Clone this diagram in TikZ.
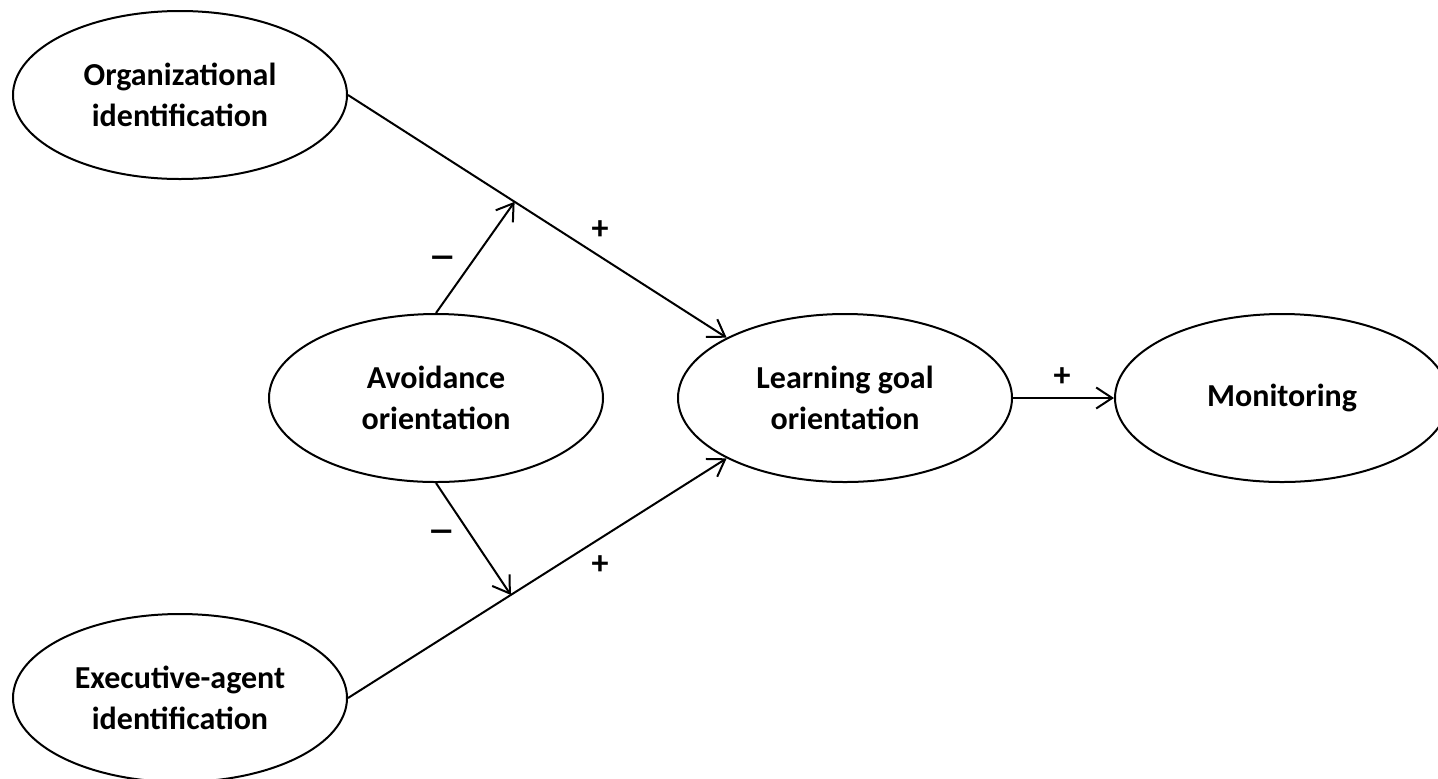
\documentclass[tikz,border=0pt]{standalone}
\usepackage{fontspec}
\usepackage{graphicx}
\setmainfont{Carlito}
\usetikzlibrary{shapes.geometric,arrows.meta,calc}
\begin{document}
\begin{tikzpicture}[x=0.5pt,y=-0.5pt,
  latent/.style={ellipse,draw,line width=1pt,minimum width=167pt,minimum height=84pt,inner sep=0pt,align=center,font=\bfseries\fontsize{16}{20.5}\selectfont},
  link/.style={line width=1pt,-{Straight Barb[length=8pt,width=10.5pt,line width=1pt]}},
  sign/.style={font=\bfseries\fontsize{17}{20}\selectfont,inner sep=0pt},
  minus/.style={font=\bfseries\fontsize{19}{24}\selectfont,inner sep=0pt}]
\clip (0,0) rectangle (1438,778);
\useasboundingbox (0,0) rectangle (1438,778);
\node[latent] (org) at (180,95) {Organizational\\identification};
\node[latent] (avoid) at (436,398) {Avoidance\\orientation};
\node[latent] (learn) at (845,398) {Learning goal\\orientation};
\node[latent] (mon) at (1282,398) {Monitoring};
\node[latent] (exec) at (180,698) {Executive-agent\\identification};
\draw[link] (org.east) -- (learn.153);
\draw[link] (exec.east) -- (learn.207);
\draw[link] (learn.east) -- (mon.west);
\coordinate (m1) at ($(org.east)!0.44!(learn.153)$);
\coordinate (m2) at ($(exec.east)!0.43!(learn.207)$);
\draw[link] (avoid.north) -- (m1);
\draw[link] (avoid.south) -- (m2);
\node[sign] (p1) at (600,230) {+};
\node[minus] (n1) at (443,262) {\scalebox{1.5}[1]{–}};
\node[minus] (n2) at (442,536) {\scalebox{1.5}[1]{–}};
\node[sign] (p2) at (600,565) {+};
\node[sign] (p3) at (1062,377) {+};
\end{tikzpicture}
\end{document}
